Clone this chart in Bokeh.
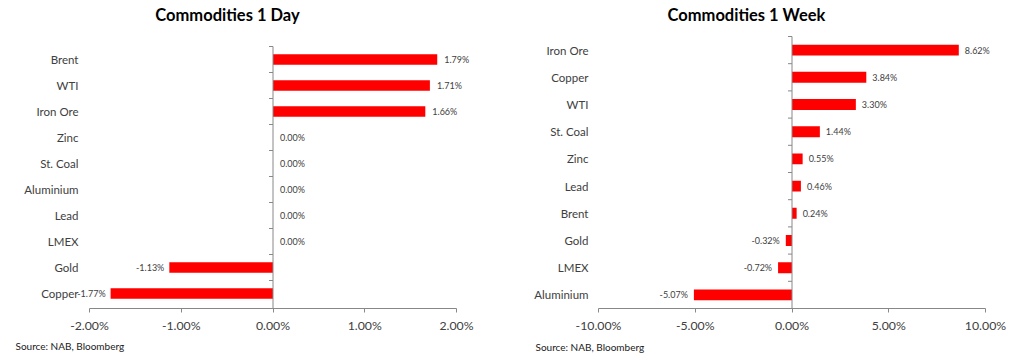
from bokeh.plotting import figure
from bokeh.layouts import row
from bokeh.models import Range1d, FixedTicker, PrintfTickFormatter, Title, ColumnDataSource
from bokeh.core.properties import value
from bokeh.embed import file_html
from bokeh.resources import INLINE

# ---- data ----
day_labels = ["Brent", "WTI", "Iron Ore", "Zinc", "St. Coal", "Aluminium", "Lead", "LMEX", "Gold", "Copper"]
day_values = [1.79, 1.71, 1.66, 0.00, 0.00, 0.00, 0.00, 0.00, -1.13, -1.77]
day_ticks = [-2, -1, 0, 1, 2]

week_labels = ["Iron Ore", "Copper", "WTI", "St. Coal", "Zinc", "Lead", "Brent", "Gold", "LMEX", "Aluminium"]
week_values = [8.62, 3.84, 3.30, 1.44, 0.55, 0.46, 0.24, -0.32, -0.72, -5.07]
week_ticks = [-10, -5, 0, 5, 10]

titles = ["Commodities 1 Day", "Commodities 1 Week"]
source_text = "Source: NAB, Bloomberg"

FONT = "Lato"
TEXT = "#404040"
AXIS = "#888888"
RED = "#FF0000"

W, H = 512, 360
FH = 308  # frame spans from canvas top to the x axis


def make(title, labels, values, ticks, axis_left, axis_w, padl, padr, cat_top, cat_h,
         ylab_standoff, title_cx, title_cy, xoff_pos, xoff_neg, src_x, src_standoff):
    n = len(labels)
    scale = axis_w / (ticks[-1] - ticks[0])
    fw = axis_w + padl + padr
    frame_left = axis_left - padl
    y_bottom = -0.5 + (FH - cat_top) / cat_h
    y_top = -0.5 - cat_top / cat_h
    p = figure(frame_width=fw, frame_height=FH,
               x_range=Range1d(ticks[0] - padl / scale, ticks[-1] + padr / scale),
               y_range=Range1d(y_bottom, y_top),
               output_backend="svg", toolbar_location=None,
               min_border_left=frame_left, min_border_right=W - frame_left - fw,
               min_border_top=0, min_border_bottom=H - FH)
    p.outline_line_color = None
    p.xgrid.visible = False
    p.ygrid.visible = False

    idx = list(range(n))
    src = ColumnDataSource(dict(
        y=idx, v=values,
        txt=[f"{v:.2f}%" for v in values],
        align=["left" if v >= 0 else "right" for v in values],
        xoff=[xoff_pos if v >= 0 else xoff_neg for v in values],
    ))
    p.hbar(y="y", left=0, right="v", height=0.4, source=src,
           fill_color=RED, line_color=None)
    p.text(x="v", y="y", text="txt", source=src, text_align="align",
           x_offset="xoff", text_baseline="middle",
           text_font=value(FONT), text_font_size="9px", text_color=TEXT)

    # vertical zero axis with small ticks at category boundaries
    p.segment(x0=[0], x1=[0], y0=[-0.5], y1=[y_bottom], line_color=AXIS, line_width=1)
    tl = 4 / scale
    bnd = [i - 0.5 for i in idx]
    p.segment(x0=[0] * n, x1=[-tl] * n, y0=bnd, y1=bnd, line_color=AXIS, line_width=1)

    # title inside the (tall) frame
    tx = ticks[0] + (title_cx - axis_left) / scale
    ty = -0.5 + (title_cy - cat_top) / cat_h
    p.text(x=[tx], y=[ty], text=[title], text_align="center", text_baseline="middle",
           text_font=value(FONT), text_font_size="16.5px", text_font_style="bold",
           text_color="black")

    # y axis: category labels only
    p.yaxis.ticker = FixedTicker(ticks=idx)
    p.yaxis.major_label_overrides = {i: lab for i, lab in enumerate(labels)}
    p.yaxis.axis_line_color = None
    p.yaxis.major_tick_line_color = None
    p.yaxis.minor_tick_line_color = None
    p.yaxis.major_label_standoff = ylab_standoff
    p.yaxis.major_label_text_font = FONT
    p.yaxis.major_label_text_font_size = "11.5px"
    p.yaxis.major_label_text_color = TEXT

    # x axis
    p.xaxis.ticker = FixedTicker(ticks=ticks)
    p.xaxis.bounds = (ticks[0], ticks[-1])
    p.xaxis.formatter = PrintfTickFormatter(format="%.2f%%")
    p.xaxis.axis_line_color = AXIS
    p.xaxis.major_tick_line_color = AXIS
    p.xaxis.major_tick_out = 4
    p.xaxis.major_tick_in = 0
    p.xaxis.minor_tick_line_color = None
    p.xaxis.major_label_standoff = 5
    p.xaxis.major_label_text_font = FONT
    p.xaxis.major_label_text_font_size = "12.3px"
    p.xaxis.major_label_text_color = TEXT

    p.add_layout(Title(text=source_text, align="left", offset=src_x - frame_left,
                       standoff=src_standoff, text_font=FONT,
                       text_font_size="10px", text_font_style="normal",
                       text_color="#202020"), "below")
    return p


# left chart: axis -2..2 spans x 89..456; categories from y 46, 26 px each
p1 = make(titles[0], day_labels, day_values, day_ticks,
          89, 367, 16, 44, 46, 26.0,
          -11, 227, 14, 7, -5, 15, 3.5)
# right chart (canvas x = page x - 512): axis -10..10 spans 86..473; categories from y 36, 27.2 px each
p2 = make(titles[1], week_labels, week_values, week_ticks,
          86, 387, 0, 32, 36, 27.2,
          4, 234, 14, 6, -6, 23, 5.5)

layout = row(p1, p2)
open("out.html", "w").write(file_html(layout, INLINE))
